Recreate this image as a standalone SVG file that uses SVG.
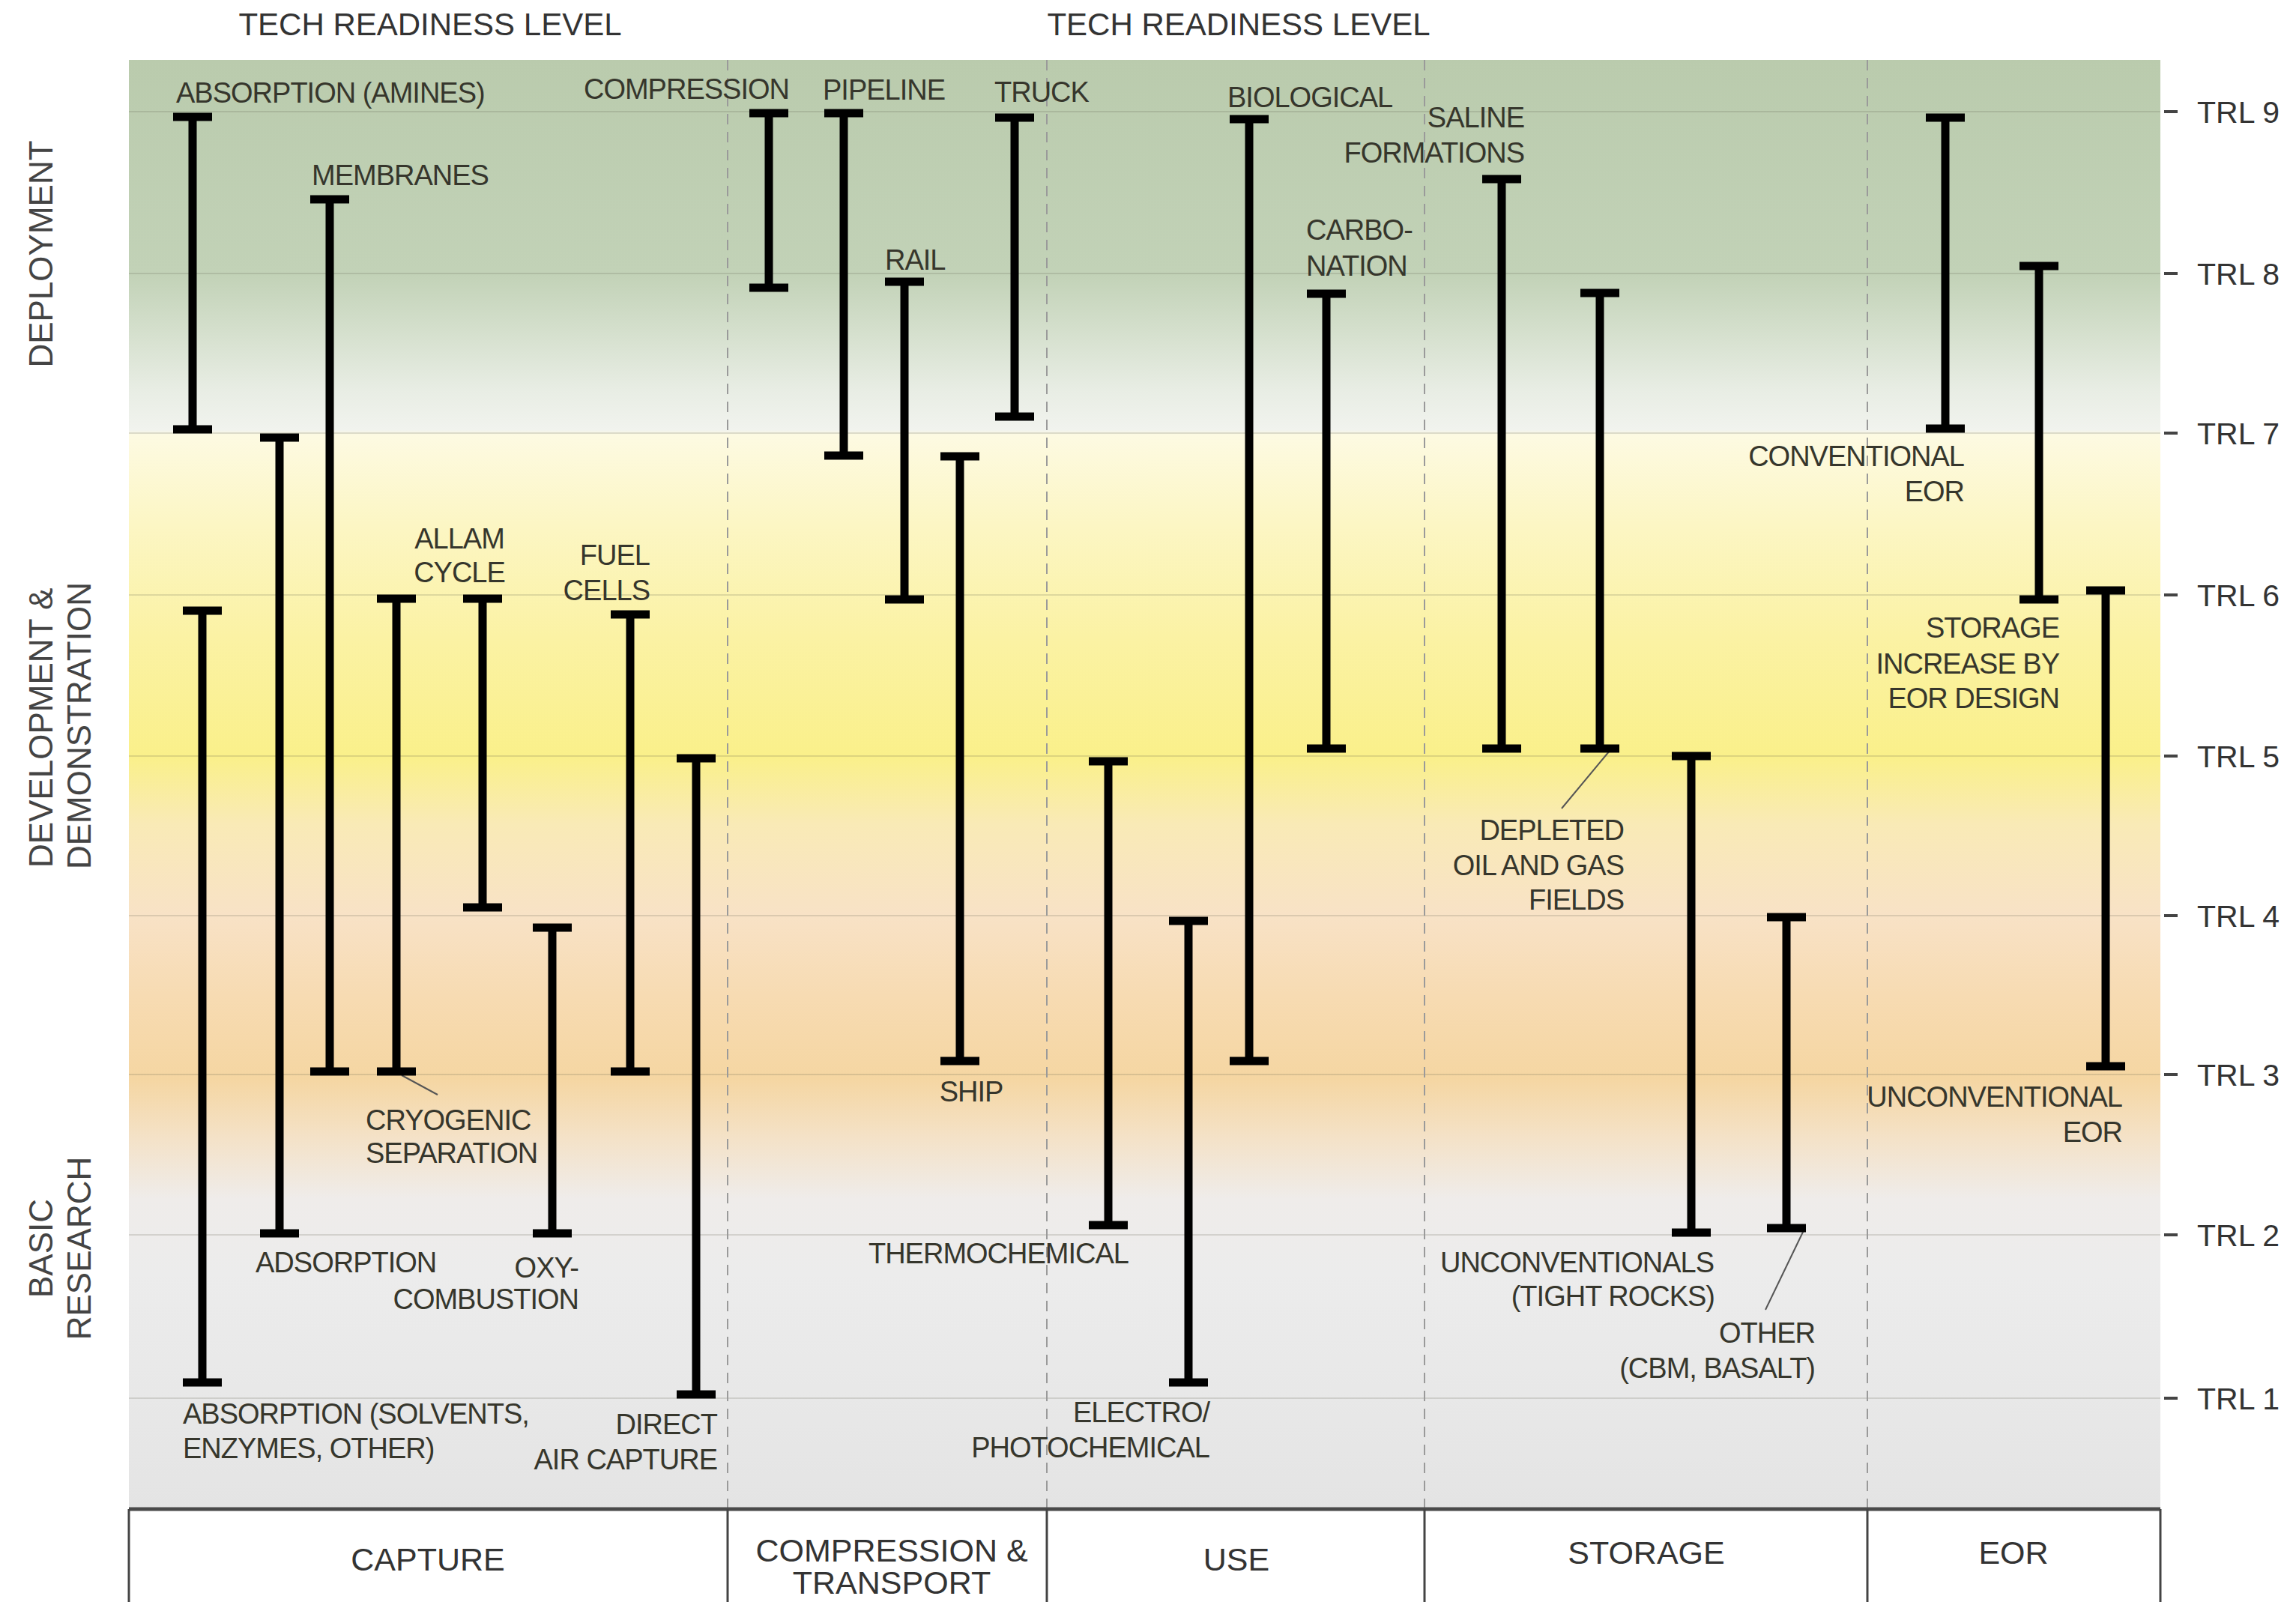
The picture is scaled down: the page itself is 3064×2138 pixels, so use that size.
<svg xmlns="http://www.w3.org/2000/svg" width="3064" height="2138" viewBox="0 0 3064 2138">
<defs>
<linearGradient id="bg" gradientUnits="userSpaceOnUse" x1="0" y1="80" x2="0" y2="2014">
<stop offset="0" stop-color="#bacbad"/>
<stop offset="0.148" stop-color="#c2d2b7"/>
<stop offset="0.186" stop-color="#d4dfcc"/>
<stop offset="0.2275" stop-color="#e8ede4"/>
<stop offset="0.2554" stop-color="#f1f3ee"/>
<stop offset="0.2585" stop-color="#fdfae2"/>
<stop offset="0.3206" stop-color="#fcf6c4"/>
<stop offset="0.398" stop-color="#fbf2a4"/>
<stop offset="0.481" stop-color="#faf08a"/>
<stop offset="0.527" stop-color="#f9eab6"/>
<stop offset="0.590" stop-color="#f8e2c6"/>
<stop offset="0.646" stop-color="#f7dbb2"/>
<stop offset="0.703" stop-color="#f5d6a2"/>
<stop offset="0.7446" stop-color="#f4e2c8"/>
<stop offset="0.786" stop-color="#efecea"/>
<stop offset="0.838" stop-color="#ececec"/>
<stop offset="1" stop-color="#e4e4e4"/>
</linearGradient>
</defs>
<style>
.bar{fill:none;stroke:#000;stroke-width:11;stroke-linecap:butt}
.lbl{font-family:"Liberation Sans",Arial,sans-serif;font-size:38px;letter-spacing:-1px;fill:#36362c}
.end{text-anchor:end}
.mid{text-anchor:middle}
.cat{font-family:"Liberation Sans",Arial,sans-serif;font-size:43px;fill:#333;text-anchor:middle}
.hdr{font-family:"Liberation Sans",Arial,sans-serif;font-size:42px;fill:#333;text-anchor:middle}
.side{font-family:"Liberation Sans",Arial,sans-serif;font-size:44px;fill:#444}
.trl{font-family:"Liberation Sans",Arial,sans-serif;font-size:41px;fill:#333}
.grid{stroke:#5a5a46;stroke-opacity:0.18;stroke-width:2}
.tick{stroke:#444;stroke-width:4}
.div{stroke:#9a9a9a;stroke-width:2;stroke-dasharray:14 10}
.box{stroke:#444;stroke-width:3;fill:none}
.lead{stroke:#555;stroke-width:2;fill:none}
</style>
<rect width="3064" height="2138" fill="#fff"/>
<g id="background">
<rect x="172" y="80" width="2711" height="1934" fill="url(#bg)"/>
<g id="gridlines">
<line class="grid" x1="172" y1="149" x2="2883" y2="149"/>
<line class="grid" x1="172" y1="365" x2="2883" y2="365"/>
<line class="grid" x1="172" y1="578" x2="2883" y2="578"/>
<line class="grid" x1="172" y1="794" x2="2883" y2="794"/>
<line class="grid" x1="172" y1="1009" x2="2883" y2="1009"/>
<line class="grid" x1="172" y1="1222" x2="2883" y2="1222"/>
<line class="grid" x1="172" y1="1434" x2="2883" y2="1434"/>
<line class="grid" x1="172" y1="1648" x2="2883" y2="1648"/>
<line class="grid" x1="172" y1="1866" x2="2883" y2="1866"/>
</g>
<g id="dividers">
<line class="div" x1="971" y1="80" x2="971" y2="2014"/>
<line class="div" x1="1397" y1="80" x2="1397" y2="2014"/>
<line class="div" x1="1901" y1="80" x2="1901" y2="2014"/>
<line class="div" x1="2492" y1="80" x2="2492" y2="2014"/>
</g>
</g>
<g id="headers">
<text class="hdr" x="574" y="47">TECH READINESS LEVEL</text>
<text class="hdr" x="1653" y="47">TECH READINESS LEVEL</text>
</g>
<g id="phases">
<text class="side" text-anchor="middle" transform="translate(70,339) rotate(-90)">DEPLOYMENT</text>
<text class="side" transform="translate(70,1158) rotate(-90)">DEVELOPMENT &amp;</text>
<text class="side" transform="translate(121,1160) rotate(-90)">DEMONSTRATION</text>
<text class="side" text-anchor="middle" transform="translate(70,1666) rotate(-90)">BASIC</text>
<text class="side" text-anchor="middle" transform="translate(121,1666) rotate(-90)">RESEARCH</text>
</g>
<g id="trl-axis">
<line class="tick" x1="2888" y1="149" x2="2906" y2="149"/><text class="trl" x="2932" y="164">TRL 9</text>
<line class="tick" x1="2888" y1="365" x2="2906" y2="365"/><text class="trl" x="2932" y="380">TRL 8</text>
<line class="tick" x1="2888" y1="578" x2="2906" y2="578"/><text class="trl" x="2932" y="593">TRL 7</text>
<line class="tick" x1="2888" y1="794" x2="2906" y2="794"/><text class="trl" x="2932" y="809">TRL 6</text>
<line class="tick" x1="2888" y1="1009" x2="2906" y2="1009"/><text class="trl" x="2932" y="1024">TRL 5</text>
<line class="tick" x1="2888" y1="1222" x2="2906" y2="1222"/><text class="trl" x="2932" y="1237">TRL 4</text>
<line class="tick" x1="2888" y1="1434" x2="2906" y2="1434"/><text class="trl" x="2932" y="1449">TRL 3</text>
<line class="tick" x1="2888" y1="1648" x2="2906" y2="1648"/><text class="trl" x="2932" y="1663">TRL 2</text>
<line class="tick" x1="2888" y1="1866" x2="2906" y2="1866"/><text class="trl" x="2932" y="1881">TRL 1</text>
</g>
<g id="category-box">
<line x1="172" y1="2014" x2="2883" y2="2014" stroke="#4a4a4a" stroke-width="5"/>
<line class="box" x1="172" y1="2014" x2="172" y2="2138"/>
<line class="box" x1="971" y1="2014" x2="971" y2="2138"/>
<line class="box" x1="1397" y1="2014" x2="1397" y2="2138"/>
<line class="box" x1="1901" y1="2014" x2="1901" y2="2138"/>
<line class="box" x1="2492" y1="2014" x2="2492" y2="2138"/>
<line class="box" x1="2883" y1="2014" x2="2883" y2="2138"/>
<text class="cat" x="571" y="2096">CAPTURE</text>
<text class="cat" x="1190" y="2084">COMPRESSION &amp;</text>
<text class="cat" x="1190" y="2127">TRANSPORT</text>
<text class="cat" x="1650" y="2096">USE</text>
<text class="cat" x="2197" y="2087">STORAGE</text>
<text class="cat" x="2687" y="2087">EOR</text>
</g>
<g id="connectors">
<line class="lead" x1="536" y1="1435" x2="584" y2="1461"/>
<line class="lead" x1="2148" y1="1002" x2="2084" y2="1079"/>
<line class="lead" x1="2409" y1="1638" x2="2356" y2="1748"/>
</g>
<g id="absorption-amines"><path class="bar" d="M257 156V573M231 156H283M231 573H283"/><text class="lbl" x="235" y="137">ABSORPTION (AMINES)</text></g>
<g id="membranes"><path class="bar" d="M440 266V1430M414 266H466M414 1430H466"/><text class="lbl" x="416" y="247">MEMBRANES</text></g>
<g id="adsorption"><path class="bar" d="M373 584V1646M347 584H399M347 1646H399"/><text class="lbl" x="341" y="1698">ADSORPTION</text></g>
<g id="absorption-solvents"><path class="bar" d="M270 815V1845M244 815H296M244 1845H296"/><text class="lbl" x="244" y="1900">ABSORPTION (SOLVENTS,</text><text class="lbl" x="244" y="1946">ENZYMES, OTHER)</text></g>
<g id="cryogenic-separation"><path class="bar" d="M529 799V1430M503 799H555M503 1430H555"/><text class="lbl" x="488" y="1508">CRYOGENIC</text><text class="lbl" x="488" y="1552">SEPARATION</text></g>
<g id="allam-cycle"><path class="bar" d="M644 799V1211M618 799H670M618 1211H670"/><text class="lbl mid" x="613" y="732">ALLAM</text><text class="lbl mid" x="613" y="777">CYCLE</text></g>
<g id="oxy-combustion"><path class="bar" d="M737 1238V1646M711 1238H763M711 1646H763"/><text class="lbl end" x="772" y="1705">OXY-</text><text class="lbl end" x="772" y="1747">COMBUSTION</text></g>
<g id="fuel-cells"><path class="bar" d="M841 820V1430M815 820H867M815 1430H867"/><text class="lbl end" x="867" y="754">FUEL</text><text class="lbl end" x="867" y="801">CELLS</text></g>
<g id="direct-air-capture"><path class="bar" d="M929 1012V1861M903 1012H955M903 1861H955"/><text class="lbl end" x="957" y="1914">DIRECT</text><text class="lbl end" x="957" y="1961">AIR CAPTURE</text></g>
<g id="compression"><path class="bar" d="M1026 151V384M1000 151H1052M1000 384H1052"/><text class="lbl end" x="1053" y="132">COMPRESSION</text></g>
<g id="pipeline"><path class="bar" d="M1126 151V608M1100 151H1152M1100 608H1152"/><text class="lbl" x="1098" y="133">PIPELINE</text></g>
<g id="rail"><path class="bar" d="M1207 376V800M1181 376H1233M1181 800H1233"/><text class="lbl" x="1181" y="360">RAIL</text></g>
<g id="truck"><path class="bar" d="M1354 157V556M1328 157H1380M1328 556H1380"/><text class="lbl" x="1327" y="136">TRUCK</text></g>
<g id="ship"><path class="bar" d="M1281 609V1416M1255 609H1307M1255 1416H1307"/><text class="lbl mid" x="1296" y="1470">SHIP</text></g>
<g id="thermochemical"><path class="bar" d="M1479 1016V1635M1453 1016H1505M1453 1635H1505"/><text class="lbl end" x="1506" y="1686">THERMOCHEMICAL</text></g>
<g id="electro-photochemical"><path class="bar" d="M1586 1229V1845M1560 1229H1612M1560 1845H1612"/><text class="lbl end" x="1614" y="1898">ELECTRO/</text><text class="lbl end" x="1614" y="1945">PHOTOCHEMICAL</text></g>
<g id="biological"><path class="bar" d="M1667 159V1416M1641 159H1693M1641 1416H1693"/><text class="lbl" x="1638" y="143">BIOLOGICAL</text></g>
<g id="carbonation"><path class="bar" d="M1770 392V999M1744 392H1796M1744 999H1796"/><text class="lbl" x="1743" y="320">CARBO-</text><text class="lbl" x="1743" y="368">NATION</text></g>
<g id="saline-formations"><path class="bar" d="M2004 239V999M1978 239H2030M1978 999H2030"/><text class="lbl end" x="2034" y="170">SALINE</text><text class="lbl end" x="2034" y="217">FORMATIONS</text></g>
<g id="depleted-fields"><path class="bar" d="M2135 391V999M2109 391H2161M2109 999H2161"/><text class="lbl end" x="2167" y="1121">DEPLETED</text><text class="lbl end" x="2167" y="1168">OIL AND GAS</text><text class="lbl end" x="2167" y="1214">FIELDS</text></g>
<g id="unconventionals"><path class="bar" d="M2257 1009V1645M2231 1009H2283M2231 1645H2283"/><text class="lbl end" x="2287" y="1698">UNCONVENTIONALS</text><text class="lbl end" x="2288" y="1743">(TIGHT ROCKS)</text></g>
<g id="other-storage"><path class="bar" d="M2384 1224V1639M2358 1224H2410M2358 1639H2410"/><text class="lbl end" x="2422" y="1792">OTHER</text><text class="lbl end" x="2422" y="1839">(CBM, BASALT)</text></g>
<g id="conventional-eor"><path class="bar" d="M2596 157V572M2570 157H2622M2570 572H2622"/><text class="lbl end" x="2621" y="622">CONVENTIONAL</text><text class="lbl end" x="2621" y="669">EOR</text></g>
<g id="storage-increase"><path class="bar" d="M2721 355V800M2695 355H2747M2695 800H2747"/><text class="lbl end" x="2748" y="851">STORAGE</text><text class="lbl end" x="2748" y="899">INCREASE BY</text><text class="lbl end" x="2748" y="945">EOR DESIGN</text></g>
<g id="unconventional-eor"><path class="bar" d="M2810 788V1423M2784 788H2836M2784 1423H2836"/><text class="lbl end" x="2832" y="1477">UNCONVENTIONAL</text><text class="lbl end" x="2832" y="1524">EOR</text></g>
</svg>
